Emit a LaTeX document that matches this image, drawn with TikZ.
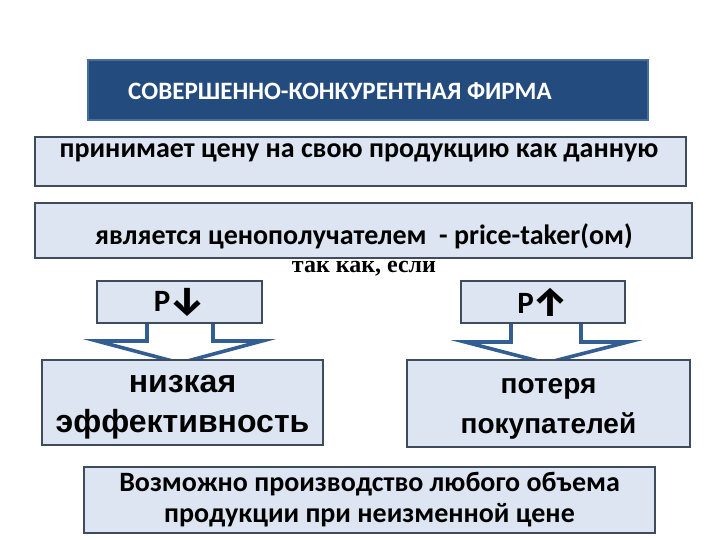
\documentclass[tikz,border=0pt]{standalone}
\usepackage{fontspec}
\setmainfont{Carlito}
\newfontfamily\arialf{Liberation Sans}
\newfontfamily\serf{Liberation Serif}
\newfontfamily\arrf{Fira Sans}
\usetikzlibrary{calc}
\definecolor{topblue}{HTML}{234B7E}
\definecolor{topborder}{HTML}{4A6E9A}
\definecolor{lightfill}{HTML}{DCE5F1}
\definecolor{boxborder}{HTML}{3E4C5E}
\definecolor{arrblue}{HTML}{335E94}
\tikzset{
  lbox/.style={draw=boxborder, fill=lightfill, line width=1.6pt, inner sep=0pt, rectangle},
  blockarrow/.style={draw=arrblue, fill=white, line width=3.6pt, line join=miter},
}
\begin{document}
\begin{tikzpicture}[x=1pt,y=-1pt]
\useasboundingbox[fill=white] (0,0) rectangle (720,540);
% top
\node[draw=topborder, fill=topblue, line width=1.6pt, minimum width=560pt, minimum height=60pt, inner sep=0pt] (top) at (368,90) {};
\node[text=white, font=\bfseries\fontsize{25}{28}\selectfont, inner sep=0pt] (tt) at (340,91) {СОВЕРШЕННО-КОНКУРЕНТНАЯ ФИРМА};
% box 2
\node[lbox, minimum width=651pt, minimum height=49pt] (b2) at (360.5,161.5) {};
\node[font=\bfseries\fontsize{28}{32}\selectfont, inner sep=0pt] (t2) at (359,153) {принимает цену на свою продукцию как данную};
% box 3
\node[lbox, minimum width=657pt, minimum height=55pt] (b3) at (363.5,230.5) {};
\node[font=\bfseries\fontsize{28}{32}\selectfont, inner sep=0pt] (t3) at (364,236) {является ценополучателем\ \ - price-taker(ом)};
% tak kak
\node[font=\serf\bfseries\fontsize{24}{28}\selectfont, inner sep=0pt] (tk) at (364,269) {так как, если};
% arrows
\coordinate (ltip) at (180,363);
\coordinate (rtip) at (546,363);
\draw[blockarrow] (147,320) -- (147,341) -- (97,341) -- (ltip) -- (262,341) -- (213,341) -- (213,320);
\draw[blockarrow] (511,320) -- (511,342) -- (465,342) -- (rtip) -- (628,342) -- (581,342) -- (581,320);
% P boxes
\node[lbox, minimum width=165pt, minimum height=42pt, font=\bfseries\fontsize{31}{34}\selectfont] (pl) at (179.5,302) {P\kern-1pt\raisebox{-3pt}{\arrf\bfseries\fontsize{40}{44}\selectfont ↓}};
\node[lbox, minimum width=164pt, minimum height=42pt, font=\bfseries\fontsize{31}{34}\selectfont] (pr) at (543,302) {P\kern-1pt\raisebox{-3pt}{\arrf\bfseries\fontsize{40}{44}\selectfont ↑}};
% lower boxes
\node[lbox, minimum width=281pt, minimum height=85pt] (lb) at (182.5,402.5) {};
\node[align=center, inner sep=0pt, font=\arialf\bfseries\fontsize{32}{40}\selectfont] (lbt) at (182.5,407) {низкая\\эффективность};
\node[lbox, minimum width=283pt, minimum height=87pt] (rb) at (548.5,403.5) {};
\node[align=center, inner sep=0pt, font=\arialf\bfseries\fontsize{28}{40}\selectfont] (rbt) at (548.5,409) {потеря\\покупателей};
% bottom
\node[lbox, minimum width=571pt, minimum height=66pt, align=center, font=\bfseries\fontsize{28}{31}\selectfont] (bot) at (369.5,500) {Возможно производство любого объема\\продукции при неизменной цене};
\end{tikzpicture}
\end{document}
